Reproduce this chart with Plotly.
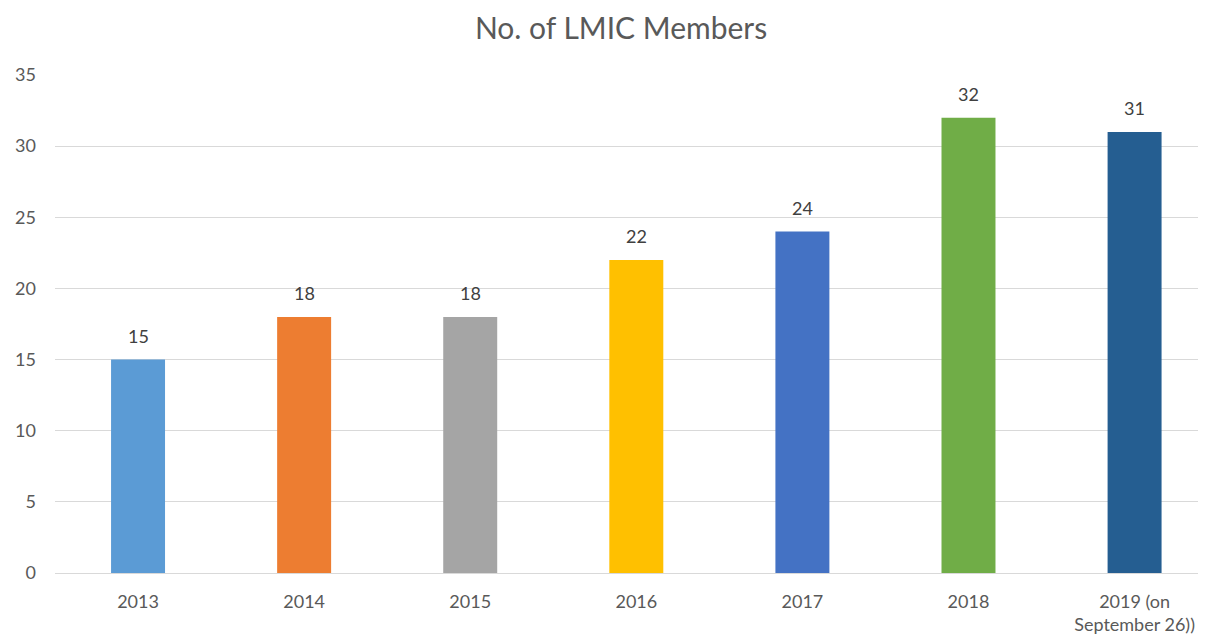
import plotly.graph_objects as go

categories = ["2013", "2014", "2015", "2016", "2017", "2018", "2019 (on<br>September 26))"]
members = [15, 18, 18, 22, 24, 32, 31]
bar_colors = ["#5B9BD5", "#ED7D31", "#A5A5A5", "#FFC000", "#4472C4", "#70AD47", "#255E91"]
y_ticks = [0, 5, 10, 15, 20, 25, 30, 35]

FONT = "Lato, Open Sans, sans-serif"

fig = go.Figure(
    go.Bar(
        x=categories,
        y=members,
        marker=dict(color=bar_colors, line=dict(width=0)),
        width=0.325,
        cliponaxis=False,
    )
)

# data labels (category axis: annotation x given as category index)
for i, v in enumerate(members):
    fig.add_annotation(
        x=i, y=v, text=str(v), showarrow=False,
        xref="x", yref="y",
        yanchor="bottom", yshift=11,
        font=dict(family=FONT, size=18, color="#404040"),
    )

fig.update_layout(
    width=1198,
    height=626,
    paper_bgcolor="white",
    plot_bgcolor="white",
    margin=dict(l=47, r=0, t=67, b=61),
    title=dict(
        text="No. of LMIC Members",
        x=0.5117,
        xanchor="center",
        y=0.9665,
        yanchor="middle",
        font=dict(family=FONT, size=30, color="#595959"),
    ),
    showlegend=False,
    font=dict(family=FONT, color="#595959"),
)

fig.update_xaxes(
    type="category",
    range=[-0.5, 6.43],
    showgrid=False,
    showline=True,
    linecolor="#D9D9D9",
    linewidth=1,
    ticks="",
    ticklabelstandoff=12,
    tickfont=dict(family=FONT, size=18, color="#595959"),
)

fig.update_yaxes(
    range=[0, 35],
    tickvals=y_ticks,
    showgrid=True,
    gridcolor="#D9D9D9",
    gridwidth=1,
    zeroline=False,
    showline=False,
    ticks="",
    ticklabelstandoff=18,
    tickfont=dict(family=FONT, size=18, color="#595959"),
)

fig.write_html("out.html")
